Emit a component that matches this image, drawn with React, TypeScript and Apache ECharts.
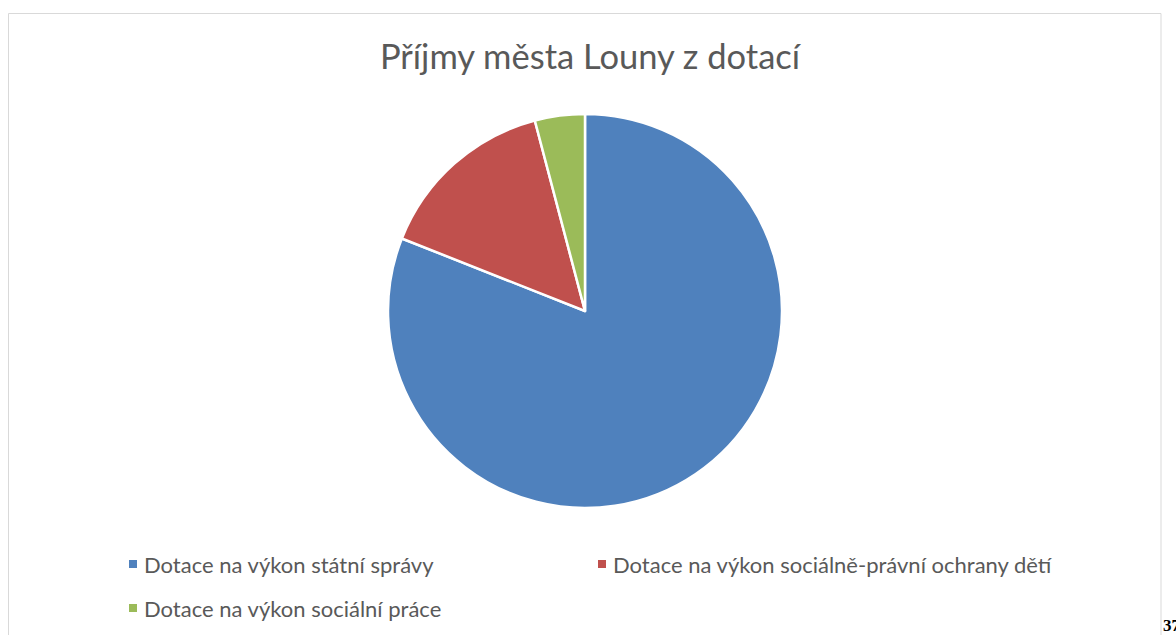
import React, { useEffect, useRef } from "react";
import * as echarts from "echarts";

const titleText = "Příjmy města Louny z dotací";
const categories = [
  "Dotace na výkon státní správy",
  "Dotace na výkon sociálně-právní ochrany dětí",
  "Dotace na výkon sociální práce",
];
const values = [81.0, 14.9, 4.1];
const colors = ["#4F81BD", "#C0504D", "#9BBB59"];
const pageNumber = "37";

const FONT = "Lato, 'Open Sans', sans-serif";

export default function App() {
  const ref = useRef<HTMLDivElement>(null);
  useEffect(() => {
    if (!ref.current) return;
    const chart = echarts.init(ref.current, undefined, { renderer: "svg" });
    const legendPos = [
      { left: 122, top: 548 },
      { left: 591, top: 548 },
      { left: 122, top: 592 },
    ];
    chart.setOption({
      animation: false,
      backgroundColor: "#ffffff",
      title: {
        text: titleText,
        left: 585,
        textAlign: "center",
        top: 33,
        textStyle: { fontFamily: FONT, fontSize: 34.5, fontWeight: "normal", color: "#595959" },
      },
      legend: categories.map((c, i) => ({
        data: [c],
        left: legendPos[i].left,
        top: legendPos[i].top,
        orient: "horizontal",
        icon: "rect",
        itemWidth: 10,
        itemHeight: 10,
        selectedMode: false,
        textStyle: { fontFamily: FONT, fontSize: 22, color: "#595959", padding: [0, 0, 0, 1] },
      })),
      graphic: [
        {
          type: "rect",
          shape: { x: 8.5, y: 13.5, width: 1152.5, height: 640 },
          style: { fill: "none", stroke: "#d9d9d9", lineWidth: 1 },
          silent: true,
        },
        {
          type: "text",
          x: 1163,
          y: 617,
          style: {
            text: pageNumber,
            font: "bold 17px 'Liberation Serif', 'DejaVu Serif', serif",
            fill: "#000000",
          },
        },
      ],
      series: [
        {
          type: "pie",
          center: [585, 311],
          radius: 197,
          startAngle: 90,
          clockwise: true,
          label: { show: false },
          labelLine: { show: false },
          emphasis: { disabled: true },
          itemStyle: { borderColor: "#ffffff", borderWidth: 2.5 },
          data: categories.map((c, i) => ({
            name: c,
            value: values[i],
            itemStyle: { color: colors[i] },
          })),
        },
      ],
    });
    return () => chart.dispose();
  }, []);
  return (
    <div
      ref={ref}
      style={{ position: "fixed", left: 0, top: 0, width: 1176, height: 635 }}
    />
  );
}
